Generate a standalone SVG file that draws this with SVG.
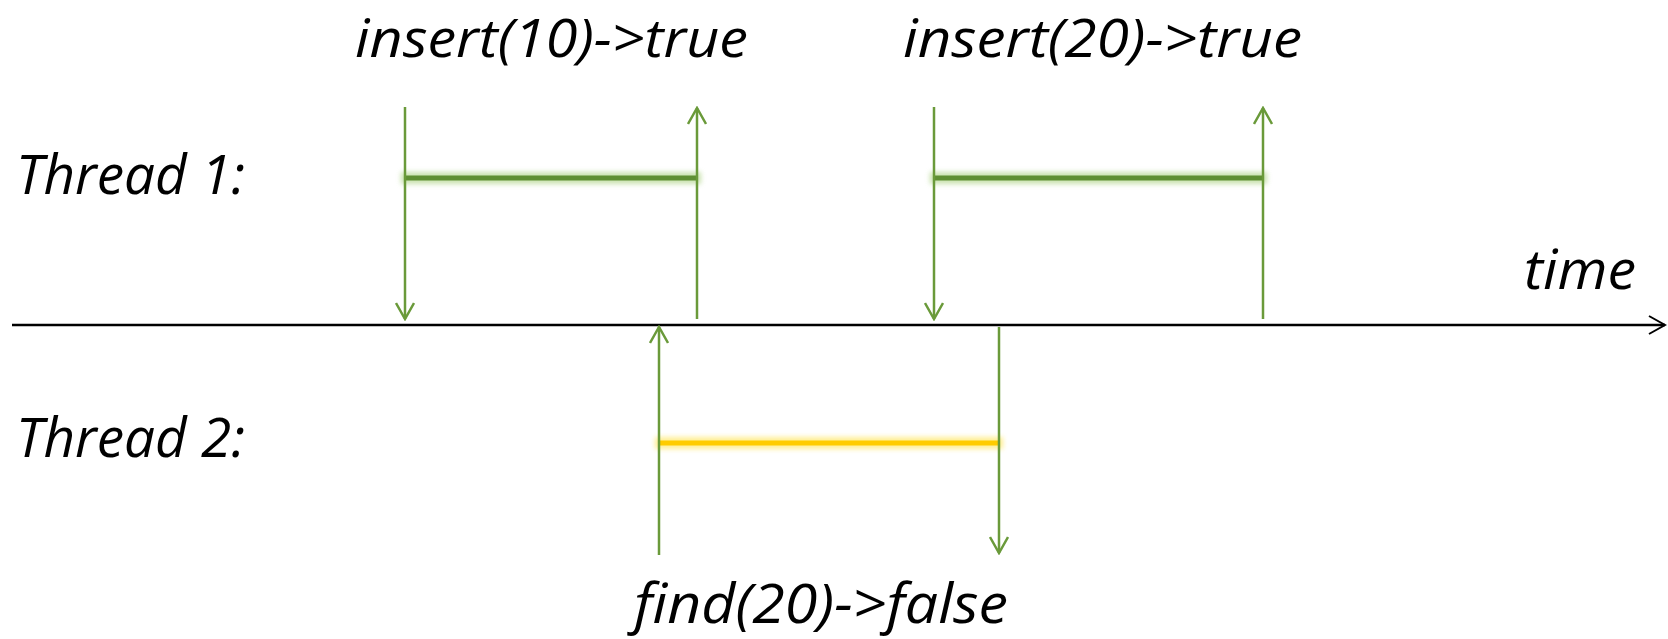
<svg xmlns="http://www.w3.org/2000/svg" width="1668" height="639" viewBox="0 0 1668 639">
<defs>
<style>
.lbl{font-family:"Open Sans","Liberation Sans",sans-serif;font-style:italic;font-size:55px;fill:#000}
.top{font-size:53px}
.arr{stroke:#6a9a3a;stroke-width:2.5;fill:none}
.glowg{stroke:#a6cf7a;stroke-width:12;opacity:0.6;filter:url(#blur)}
.barg{stroke:#5f8f33;stroke-width:5}
.glowy{stroke:#ffe866;stroke-width:12;opacity:0.7;filter:url(#blur)}
.bary{stroke:#ffcc00;stroke-width:5}
</style>
<filter id="blur" filterUnits="userSpaceOnUse" x="0" y="0" width="1668" height="639"><feGaussianBlur stdDeviation="2.5"/></filter>
<marker id="ah" viewBox="0 0 20 20" refX="18" refY="10" markerWidth="20" markerHeight="20" markerUnits="userSpaceOnUse" orient="auto">
<path d="M2,1 L18,10 L2,19" fill="none" stroke="#6a9a3a" stroke-width="2.5"/>
</marker>
<marker id="axh" viewBox="0 0 20 20" refX="18" refY="10" markerWidth="20" markerHeight="20" markerUnits="userSpaceOnUse" orient="auto">
<path d="M2,1 L18,10 L2,19" fill="none" stroke="#000" stroke-width="2"/>
</marker>
</defs>
<g id="axis">
<line x1="12" y1="325" x2="1665" y2="325" stroke="#000" stroke-width="2.5" marker-end="url(#axh)"/>
<text class="lbl" x="1524" y="289" textLength="112" lengthAdjust="spacingAndGlyphs">time</text>
</g>
<g id="thread1-label"><text class="lbl" x="16" y="194" textLength="229" lengthAdjust="spacingAndGlyphs">Thread 1:</text></g>
<g id="thread2-label"><text class="lbl" x="16" y="457" textLength="229" lengthAdjust="spacingAndGlyphs">Thread 2:</text></g>
<g id="insert10">
<line class="glowg" x1="401" y1="178" x2="701" y2="178"/>
<line class="barg" x1="405" y1="178" x2="697" y2="178"/>
<text class="lbl top" x="355" y="57" textLength="393" lengthAdjust="spacingAndGlyphs">insert(10)-&gt;true</text>
</g>
<g id="insert20">
<line class="glowg" x1="930" y1="178" x2="1267" y2="178"/>
<line class="barg" x1="934" y1="178" x2="1263" y2="178"/>
<text class="lbl top" x="903" y="57" textLength="399" lengthAdjust="spacingAndGlyphs">insert(20)-&gt;true</text>
</g>
<g id="find20">
<line class="glowy" x1="655" y1="443" x2="1003" y2="443"/>
<line class="bary" x1="659" y1="443" x2="999" y2="443"/>
<text class="lbl" x="634" y="623" textLength="374" lengthAdjust="spacingAndGlyphs">find(20)-&gt;false</text>
</g>
<g id="connectors">
<line class="arr" x1="405" y1="107" x2="405" y2="319" marker-end="url(#ah)"/>
<line class="arr" x1="697" y1="319" x2="697" y2="108" marker-end="url(#ah)"/>
<line class="arr" x1="934" y1="107" x2="934" y2="319" marker-end="url(#ah)"/>
<line class="arr" x1="1263" y1="319" x2="1263" y2="108" marker-end="url(#ah)"/>
<line class="arr" x1="659" y1="555" x2="659" y2="327" marker-end="url(#ah)"/>
<line class="arr" x1="999" y1="327" x2="999" y2="553" marker-end="url(#ah)"/>
</g>
</svg>
